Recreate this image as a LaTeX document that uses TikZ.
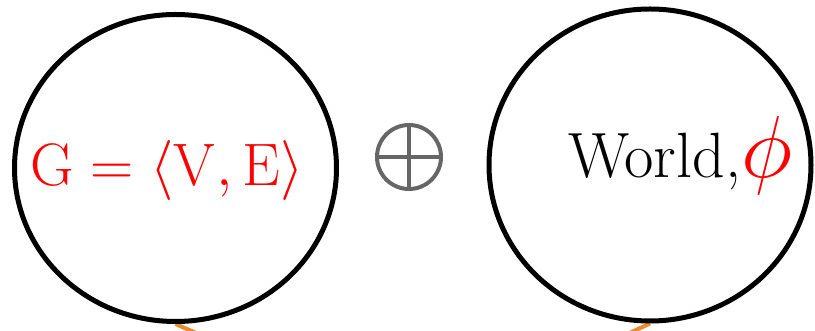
\RequirePackage{fix-cm}
\documentclass[tikz,border=0pt]{standalone}
\usetikzlibrary{shapes.geometric,backgrounds}
\definecolor{linkorange}{RGB}{232,140,48}
\definecolor{opgray}{RGB}{102,102,102}
\begin{document}
\begin{tikzpicture}[x=1pt,y=1pt,
  blob/.style={draw=black,line width=5pt,ellipse,inner sep=0pt},
  bigtext/.style={font=\fontsize{64}{70}\selectfont,inner sep=0pt,anchor=base west},
  link/.style={draw=linkorange,line width=4pt}]
\useasboundingbox (0,0) rectangle (815,331);
\clip (0,0) rectangle (815,331);
\node[blob,minimum width=322pt,minimum height=307pt] (left) at (175.5,163) {};
\node[blob,minimum width=322pt,minimum height=312pt] (right) at (650,166) {};
\node[bigtext,text=red,font=\fontsize{60}{66}\selectfont] (gtext) at (30,145) {$\mathrm{G}=\langle\mathrm{V},\mathrm{E}\rangle$};
\node[bigtext] (wtext) at (568,153) {World,\textcolor{red}{\fontsize{88}{96}\selectfont$\phi$}};
\node[circle,draw=opgray,line width=4pt,minimum size=64pt,inner sep=0pt] (op) at (409,174) {};
\draw[opgray,line width=4pt] (op.north) -- (op.south) (op.west) -- (op.east);
\coordinate (lend) at (217,-11);
\coordinate (rend) at (610,-11);
\begin{pgfonlayer}{background}
\draw[link] (left.south) -- (lend);
\draw[link] (right.south) -- (rend);
\end{pgfonlayer}
\end{tikzpicture}
\end{document}
